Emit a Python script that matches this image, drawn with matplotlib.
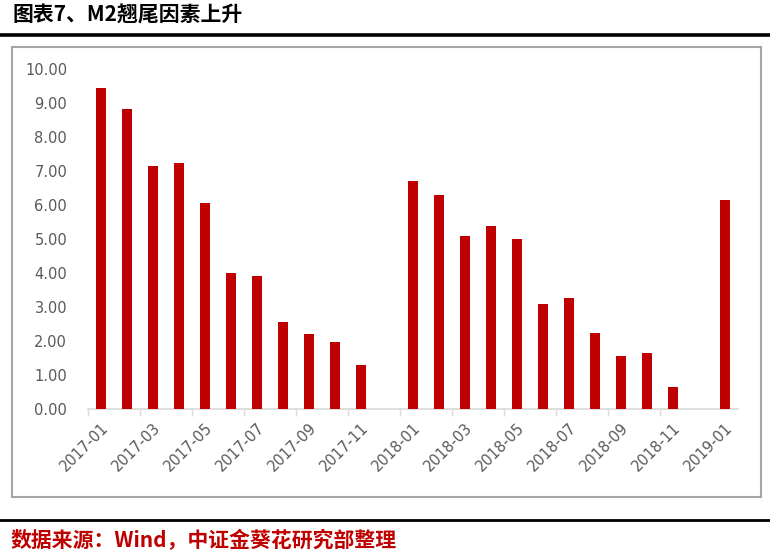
import matplotlib
matplotlib.use("Agg")
import matplotlib.pyplot as plt
from matplotlib.patches import Rectangle
from matplotlib.lines import Line2D

plt.rcParams['font.family'] = ['Noto Sans CJK SC', 'DejaVu Sans']

months = ["2017-01", "2017-02", "2017-03", "2017-04", "2017-05", "2017-06", "2017-07",
          "2017-08", "2017-09", "2017-10", "2017-11", "2017-12",
          "2018-01", "2018-02", "2018-03", "2018-04", "2018-05", "2018-06", "2018-07",
          "2018-08", "2018-09", "2018-10", "2018-11", "2018-12", "2019-01"]
values = [9.45, 8.81, 7.16, 7.25, 6.05, 4.00, 3.90, 2.57, 2.20, 1.98, 1.29, 0.0,
          6.70, 6.29, 5.10, 5.37, 5.01, 3.08, 3.26, 2.25, 1.57, 1.66, 0.64, 0.0, 6.15]
yticks = [0, 1, 2, 3, 4, 5, 6, 7, 8, 9, 10]

title = "图表7、M2翘尾因素上升"
source = "数据来源：Wind，中证金葵花研究部整理"

W, H = 770, 553
fig = plt.figure(figsize=(W / 100, H / 100), dpi=100)

ax = fig.add_axes([88 / W, 1 - 409 / H, (738 - 88) / W, (409 - 69) / H])
x = list(range(len(months)))
ax.bar(x, values, width=0.35, color="#c00000", zorder=3)

ax.set_xlim(-0.5, len(months) - 0.5)
ax.set_ylim(0, 10)
ax.set_yticks(yticks)
ax.set_yticklabels([f"{v:.2f}" for v in yticks], fontsize=10.5, color="#595959",
                   family="DejaVu Sans")
ax.tick_params(axis="y", length=0, pad=15)

# major ticks at category boundaries (every 2 categories), labels at categories
ax.set_xticks([i - 0.5 for i in range(0, len(months) - 1, 2)])
ax.set_xticklabels([])
ax.tick_params(axis="x", which="major", length=5, color="#d9d9d9", width=1)
ax.set_xticks(list(range(0, len(months), 2)), minor=True)
ax.set_xticklabels([months[i] for i in range(0, len(months), 2)], minor=True,
                   rotation=45, ha="right", va="top", rotation_mode="anchor",
                   fontsize=10.5, color="#595959", family="DejaVu Sans")
ax.tick_params(axis="x", which="minor", length=0, pad=8)

for s in ["left", "right", "top"]:
    ax.spines[s].set_visible(False)
ax.spines["bottom"].set_color("#d9d9d9")
ax.spines["bottom"].set_linewidth(1.2)

# chart frame
fig.add_artist(Rectangle((12 / W, 1 - 497 / H), (761 - 12) / W, (497 - 47) / H,
                         transform=fig.transFigure, fill=False,
                         edgecolor="#a6a6a6", linewidth=1.5))

# header / footer rules
fig.add_artist(Line2D([0, 1], [1 - 35 / H, 1 - 35 / H], transform=fig.transFigure,
                      color="black", linewidth=2.6))
fig.add_artist(Line2D([0, 1], [1 - 520 / H, 1 - 520 / H], transform=fig.transFigure,
                      color="black", linewidth=2.0))

fig.text(13 / W, 1 - 15 / H, title, fontsize=15, fontweight="bold",
         color="black", ha="left", va="center")
fig.text(11 / W, 1 - 540 / H, source, fontsize=15, fontweight="bold",
         color="#c00000", ha="left", va="center")

fig.savefig("out.png", dpi=100)
